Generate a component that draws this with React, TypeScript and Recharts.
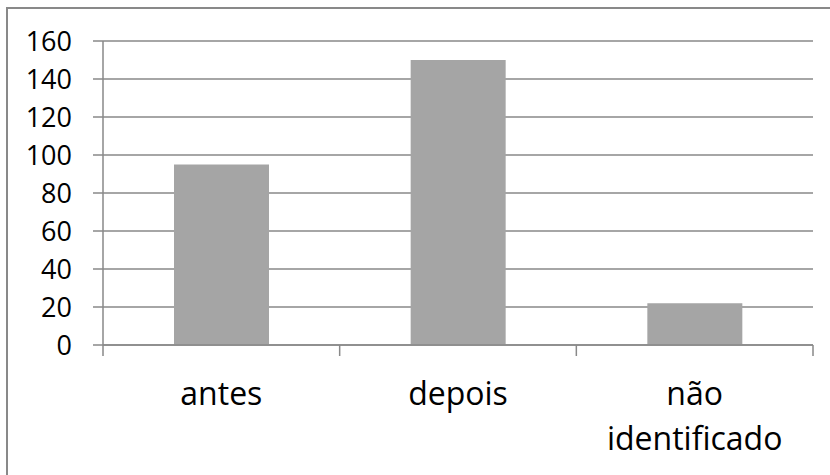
import React from 'react';
import { BarChart, Bar, XAxis, YAxis, CartesianGrid } from 'recharts';

const categories = ['antes', 'depois', 'não identificado'];
const values = [95, 150, 22];
const yTicks = [0, 20, 40, 60, 80, 100, 120, 140, 160];

const data = categories.map((name, i) => ({ name, value: values[i] }));

const GRAY = '#898989';
const FONT = '"Open Sans", sans-serif';

const XTick = (props: any) => {
  const { x, y, payload, index, visibleTicksCount, width } = props;
  const count = visibleTicksCount || categories.length;
  const half = width ? width / count / 2 : payload?.offset ?? 0;
  const words = String(payload.value).split(' ');
  return (
    <g>
      <line x1={x - half} y1={y} x2={x - half} y2={y + 11} stroke={GRAY} strokeWidth={1.5} />
      {index === count - 1 && (
        <line x1={x + half} y1={y} x2={x + half} y2={y + 11} stroke={GRAY} strokeWidth={1.5} />
      )}
      <text textAnchor="middle" fontFamily={FONT} fontSize={32} fill="#000">
        {words.map((w, i) => (
          <tspan key={i} x={x} y={y + 60 + i * 45}>
            {w}
          </tspan>
        ))}
      </text>
    </g>
  );
};

const YTick = (props: any) => {
  const { x, y, payload } = props;
  return (
    <text x={x} y={y} dy="0.36em" textAnchor="end" fontFamily={FONT} fontSize={27} fill="#000">
      {payload.value}
    </text>
  );
};

export default function App() {
  return (
    <div style={{ position: 'absolute', left: 0, top: 0, width: 830, height: 475, background: '#fff' }}>
      <div style={{ position: 'absolute', left: 6, top: 7, width: 824, height: 468, borderTop: `2px solid ${GRAY}`, borderLeft: `2px solid ${GRAY}`, boxSizing: 'border-box' }} />
      <BarChart
        width={830}
        height={475}
        data={data}
        margin={{ top: 41, right: 17, bottom: 0, left: 0 }}
        barCategoryGap="30%"
      >
        <CartesianGrid vertical={false} stroke={GRAY} strokeWidth={1.5} />
        <XAxis
          dataKey="name"
          height={130}
          axisLine={{ stroke: GRAY, strokeWidth: 1.5 }}
          tickLine={false}
          tickSize={0}
          tickMargin={0}
          interval={0}
          tick={<XTick />}
        />
        <YAxis
          width={103}
          domain={[0, 160]}
          ticks={yTicks}
          interval={0}
          axisLine={{ stroke: GRAY, strokeWidth: 1.5 }}
          tickLine={{ stroke: GRAY, strokeWidth: 1.5 }}
          tickSize={10}
          tickMargin={21}
          tick={<YTick />}
        />
        <Bar dataKey="value" fill="#a5a5a5" isAnimationActive={false} />
      </BarChart>
    </div>
  );
}
